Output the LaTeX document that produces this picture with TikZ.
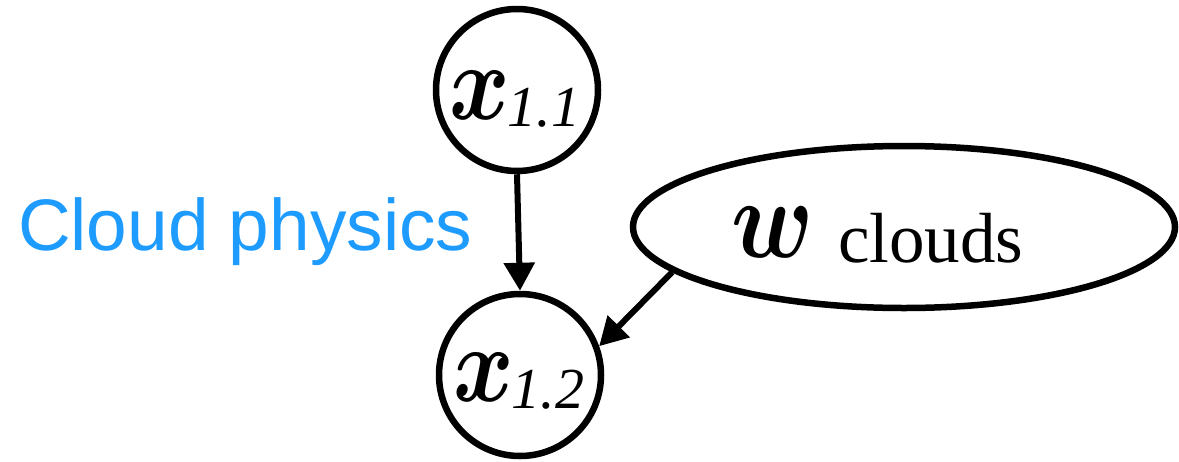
\RequirePackage{fix-cm}
\documentclass[tikz,border=0pt]{standalone}
\usepackage{fontspec}
\usepackage{bm}
\usetikzlibrary{arrows.meta,shapes.geometric}
\newfontfamily\labelsans{Liberation Sans}
\newfontfamily\labelserif{Liberation Serif}
\definecolor{physblue}{RGB}{30,155,255}
\newcommand\myvarlabel[1]{\fontsize{92pt}{92pt}\selectfont\scalebox{1}[1.18]{$\bm{x}$}\hspace{-2pt}\raisebox{-7pt}{\labelserif\fontsize{58pt}{58pt}\selectfont\itshape #1}}
\newcommand\myparlabel{\fontsize{96pt}{96pt}\selectfont\scalebox{1}[1.18]{$\bm{w}$}}
\begin{document}
\begin{tikzpicture}[x=1pt,y=-1pt,
  varnode/.style={circle,draw=black,line width=6.5pt,minimum size=162pt,inner sep=0pt},
  parnode/.style={ellipse,draw=black,line width=6.5pt,minimum width=542pt,minimum height=162pt,inner sep=0pt},
  txt/.style={inner sep=0pt,outer sep=0pt},
  edge/.style={line width=6pt,-{Triangle[length=28pt,width=30pt]}}]
\useasboundingbox (0,0) rectangle (1179,461);
\node[varnode] (x11) at (517,90) {};
\node[varnode] (x12) at (520,375) {};
\node[parnode] (w) at (904,227) {};
\node[txt,anchor=base west] (x11t) at (449,119) {\myvarlabel{1.1}};
\node[txt,anchor=base west] (x12t) at (453,401) {\myvarlabel{1.2}};
\node[txt,anchor=base west] (wt) at (731,257) {\myparlabel};
\node[txt,anchor=base west] (clouds) at (838,262) {\labelserif\fontsize{71pt}{71pt}\selectfont clouds};
\node[txt,anchor=base west,text=physblue] (phys) at (18,250) {\labelsans\fontsize{73pt}{73pt}\selectfont Cloud physics};
\draw[edge] (x11.south) -- (x12.north);
\draw[edge] (w.191) -- (x12.20);
\end{tikzpicture}
\end{document}
